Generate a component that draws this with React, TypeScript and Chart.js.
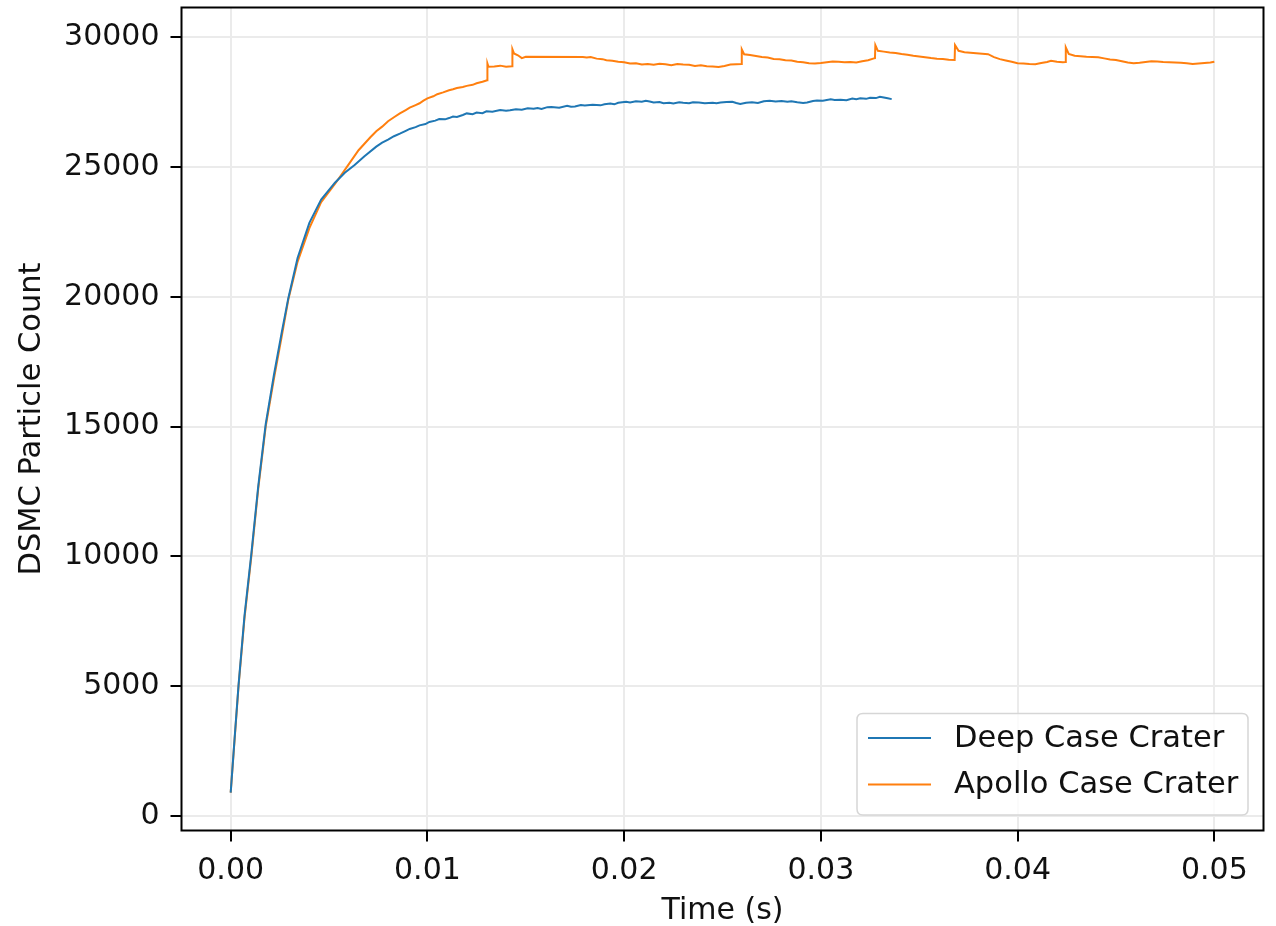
import React, { useEffect, useRef } from "react";
import { Chart, registerables } from "chart.js";

Chart.register(...registerables);

const seriesNames = ["Deep Case Crater", "Apollo Case Crater"];
const seriesColors = ["#1f77b4", "#ff7f0e"];

const xTickValues = [0, 0.01, 0.02, 0.03, 0.04, 0.05];
const yTickValues = [0, 5000, 10000, 15000, 20000, 25000, 30000];

const deepTime = [0, 0.0002, 0.0004, 0.0007, 0.00105, 0.0014, 0.00178, 0.0022, 0.0026, 0.00293, 0.0034, 0.004, 0.0046, 0.0053, 0.0058, 0.0063, 0.0068, 0.0074, 0.0077, 0.008, 0.0083, 0.0086, 0.0089, 0.0091, 0.0094, 0.0096, 0.0099, 0.0101, 0.0104, 0.0106, 0.0109, 0.0111, 0.0113, 0.0115, 0.0118, 0.012, 0.0123, 0.0125, 0.0128, 0.013, 0.0133, 0.0137, 0.014, 0.0142, 0.0145, 0.0148, 0.0151, 0.0154, 0.0156, 0.0158, 0.0161, 0.0163, 0.0167, 0.0171, 0.0173, 0.0175, 0.0178, 0.018, 0.0184, 0.0188, 0.019, 0.0193, 0.0195, 0.0197, 0.0201, 0.0203, 0.0206, 0.0209, 0.0211, 0.0213, 0.0215, 0.0218, 0.022, 0.0223, 0.0225, 0.0228, 0.023, 0.0233, 0.0235, 0.0238, 0.0241, 0.0245, 0.0247, 0.0249, 0.0252, 0.0255, 0.0257, 0.0259, 0.0262, 0.0265, 0.0268, 0.0271, 0.0274, 0.0277, 0.028, 0.0283, 0.0285, 0.0288, 0.0291, 0.0293, 0.0296, 0.0298, 0.0301, 0.0305, 0.0307, 0.031, 0.0313, 0.0316, 0.0318, 0.032, 0.0323, 0.0325, 0.0328, 0.033, 0.0332, 0.0334, 0.0336];
const deepCount = [900, 3000, 5050, 7700, 10100, 12700, 15100, 17000, 18650, 19950, 21500, 22850, 23750, 24400, 24780, 25080, 25420, 25790, 25940, 26060, 26190, 26290, 26400, 26470, 26540, 26610, 26660, 26740, 26790, 26850, 26840, 26890, 26950, 26930, 27010, 27070, 27040, 27100, 27080, 27150, 27130, 27200, 27170, 27190, 27230, 27210, 27270, 27250, 27280, 27240, 27310, 27320, 27290, 27360, 27330, 27340, 27390, 27370, 27400, 27380, 27420, 27450, 27420, 27480, 27520, 27490, 27540, 27520, 27560, 27530, 27490, 27510, 27460, 27480, 27450, 27500, 27480, 27460, 27500, 27490, 27460, 27480, 27460, 27490, 27510, 27520, 27470, 27430, 27480, 27500, 27470, 27540, 27560, 27530, 27550, 27520, 27540, 27500, 27470, 27490, 27550, 27570, 27560, 27610, 27590, 27600, 27580, 27640, 27620, 27650, 27630, 27670, 27660, 27710, 27680, 27650, 27620];

const apolloTime = [0, 0.0002, 0.0004, 0.0007, 0.00105, 0.0014, 0.00178, 0.0022, 0.0026, 0.00293, 0.0034, 0.004, 0.0046, 0.0053, 0.0059, 0.0065, 0.0071, 0.0074, 0.0077, 0.008, 0.0083, 0.0086, 0.0089, 0.0091, 0.0094, 0.0096, 0.0098, 0.01, 0.0103, 0.0105, 0.0108, 0.0111, 0.0113, 0.0115, 0.0118, 0.012, 0.0123, 0.0125, 0.0128, 0.013, 0.01304, 0.01305, 0.0131, 0.0134, 0.0137, 0.014, 0.0143, 0.01432, 0.0144, 0.0146, 0.0148, 0.015, 0.0179, 0.0181, 0.0183, 0.0186, 0.0189, 0.0191, 0.0194, 0.0197, 0.02, 0.0203, 0.0206, 0.0209, 0.0212, 0.0215, 0.0218, 0.0221, 0.0224, 0.0227, 0.023, 0.0233, 0.0236, 0.0239, 0.0242, 0.0245, 0.0248, 0.0251, 0.0254, 0.0257, 0.02596, 0.02598, 0.0261, 0.0264, 0.0267, 0.027, 0.0273, 0.0276, 0.0279, 0.0282, 0.0285, 0.0288, 0.0291, 0.0294, 0.0297, 0.03, 0.0303, 0.0306, 0.0309, 0.0312, 0.0315, 0.0318, 0.0321, 0.0324, 0.0327, 0.03275, 0.03277, 0.0329, 0.0332, 0.0335, 0.0338, 0.0341, 0.0344, 0.0347, 0.035, 0.0353, 0.0356, 0.0359, 0.0362, 0.0365, 0.0368, 0.03682, 0.037, 0.0373, 0.0376, 0.0379, 0.0382, 0.0385, 0.0388, 0.0391, 0.0394, 0.0397, 0.04, 0.0403, 0.0406, 0.0409, 0.0412, 0.0415, 0.0417, 0.042, 0.0423, 0.04243, 0.04245, 0.0426, 0.0429, 0.0432, 0.0435, 0.0438, 0.0441, 0.0444, 0.0447, 0.045, 0.0453, 0.0456, 0.0459, 0.0462, 0.0465, 0.0468, 0.0471, 0.0474, 0.0477, 0.048, 0.0483, 0.0486, 0.0489, 0.0492, 0.0495, 0.0498, 0.05];
const apolloCount = [900, 2950, 5000, 7600, 10000, 12600, 15000, 16850, 18500, 19900, 21350, 22650, 23650, 24350, 25000, 25650, 26150, 26380, 26560, 26770, 26920, 27070, 27200, 27290, 27390, 27460, 27560, 27650, 27730, 27810, 27880, 27960, 28000, 28050, 28090, 28130, 28170, 28230, 28290, 28340, 28350, 28990, 28870, 28880, 28910, 28870, 28890, 29540, 29380, 29310, 29200, 29250, 29240, 29220, 29240, 29180, 29160, 29120, 29100, 29060, 29040, 28990, 29000, 28950, 28970, 28940, 28980, 28960, 28930, 28970, 28950, 28940, 28900, 28920, 28890, 28880, 28860, 28900, 28950, 28960, 28970, 29540, 29350, 29320, 29280, 29240, 29220, 29170, 29160, 29120, 29110, 29060, 29040, 29000, 28990, 29010, 29040, 29070, 29060, 29040, 29050, 29030, 29080, 29120, 29190, 29200, 29700, 29480, 29450, 29420, 29400, 29360, 29330, 29290, 29260, 29230, 29200, 29180, 29170, 29140, 29125, 29700, 29480, 29430, 29410, 29390, 29370, 29350, 29240, 29160, 29110, 29060, 29000, 28990, 28970, 28960, 29010, 29050, 29100, 29060, 29040, 29050, 29610, 29360, 29290, 29270, 29250, 29240, 29230, 29190, 29150, 29130, 29080, 29030, 29000, 29020, 29050, 29080, 29070, 29050, 29040, 29030, 29020, 29000, 28970, 28990, 29010, 29030, 29060];

const FONT = "'DejaVu Sans', sans-serif";
const TEXT_COLOR = "#111111";

const frameAndLegend = {
  id: "frameAndLegend",
  afterDraw(chart: any) {
    const { ctx, chartArea } = chart;
    ctx.save();
    ctx.strokeStyle = "#000000";
    ctx.lineWidth = 2;
    ctx.strokeRect(chartArea.left, chartArea.top, chartArea.right - chartArea.left, chartArea.bottom - chartArea.top);

    // legend box
    const bx = 857, by = 713.5, bw = 391, bh = 101.5, r = 6;
    ctx.beginPath();
    ctx.moveTo(bx + r, by);
    ctx.lineTo(bx + bw - r, by);
    ctx.quadraticCurveTo(bx + bw, by, bx + bw, by + r);
    ctx.lineTo(bx + bw, by + bh - r);
    ctx.quadraticCurveTo(bx + bw, by + bh, bx + bw - r, by + bh);
    ctx.lineTo(bx + r, by + bh);
    ctx.quadraticCurveTo(bx, by + bh, bx, by + bh - r);
    ctx.lineTo(bx, by + r);
    ctx.quadraticCurveTo(bx, by, bx + r, by);
    ctx.closePath();
    ctx.fillStyle = "rgba(255,255,255,0.8)";
    ctx.fill();
    ctx.strokeStyle = "#d6d6d6";
    ctx.lineWidth = 1.5;
    ctx.stroke();

    const rowsY = [738, 784.5];
    seriesNames.forEach((name, i) => {
      ctx.strokeStyle = seriesColors[i];
      ctx.lineWidth = 2;
      ctx.beginPath();
      ctx.moveTo(868, rowsY[i]);
      ctx.lineTo(931, rowsY[i]);
      ctx.stroke();
      ctx.fillStyle = TEXT_COLOR;
      ctx.font = `30.5px ${FONT}`;
      ctx.textBaseline = "middle";
      ctx.textAlign = "left";
      ctx.fillText(name, 954, rowsY[i] + 1);
    });
    ctx.restore();
  },
};

export default function App() {
  const canvasRef = useRef<HTMLCanvasElement | null>(null);

  useEffect(() => {
    const canvas = canvasRef.current;
    if (!canvas) return;
    const deepData = deepTime.map((t, i) => ({ x: t, y: deepCount[i] }));
    const apolloData = apolloTime.map((t, i) => ({ x: t, y: apolloCount[i] }));

    const chart = new Chart(canvas, {
      type: "line",
      data: {
        datasets: [
          {
            label: seriesNames[0],
            data: deepData,
            borderColor: seriesColors[0],
            borderWidth: 2,
            pointRadius: 0,
            tension: 0,
            fill: false,
          },
          {
            label: seriesNames[1],
            data: apolloData,
            borderColor: seriesColors[1],
            borderWidth: 2,
            pointRadius: 0,
            tension: 0,
            fill: false,
          },
        ],
      },
      options: {
        animation: false,
        responsive: false,
        maintainAspectRatio: false,
        devicePixelRatio: 1,
        layout: { padding: { left: 0, right: 12.5, top: 7.5, bottom: 0 } },
        plugins: {
          legend: { display: false },
          tooltip: { enabled: false },
        },
        scales: {
          x: {
            type: "linear",
            min: -0.0025,
            max: 0.0525,
            afterFit: (scale: any) => {
              scale.height = 95.5;
              scale.paddingLeft = 0;
              scale.paddingRight = 0;
            },
            afterBuildTicks: (scale: any) => {
              scale.ticks = xTickValues.map((v) => ({ value: v }));
            },
            border: { display: false },
            grid: {
              color: "#ebebeb",
              lineWidth: 2,
              tickColor: "#000000",
              tickLength: 11,
              tickWidth: 2,
            },
            ticks: {
              color: TEXT_COLOR,
              font: { family: FONT, size: 30 },
              padding: 12,
              maxRotation: 0,
              autoSkip: false,
              callback: (v: any) => Number(v).toFixed(2),
            },
            title: {
              display: true,
              text: "Time (s)",
              color: TEXT_COLOR,
              font: { family: FONT, size: 30 },
              padding: { top: 0, bottom: -3 },
            },
          },
          y: {
            type: "linear",
            min: -560,
            max: 31150,
            afterFit: (scale: any) => {
              scale.width = 181.5;
              scale.paddingTop = 0;
              scale.paddingBottom = 0;
            },
            afterBuildTicks: (scale: any) => {
              scale.ticks = yTickValues.map((v) => ({ value: v }));
            },
            border: { display: false },
            grid: {
              color: "#ebebeb",
              lineWidth: 2,
              tickColor: "#000000",
              tickLength: 11,
              tickWidth: 2,
            },
            ticks: {
              color: TEXT_COLOR,
              font: { family: FONT, size: 30 },
              padding: 11,
              autoSkip: false,
              callback: (v: any) => String(v),
            },
            title: {
              display: true,
              text: "DSMC Particle Count",
              color: TEXT_COLOR,
              font: { family: FONT, size: 30.5 },
              padding: { top: 14, bottom: 0 },
            },
          },
        },
      },
      plugins: [frameAndLegend],
    });
    return () => chart.destroy();
  }, []);

  return (
    <div style={{ position: "fixed", left: 0, top: 0, width: 1276, height: 926, background: "#ffffff" }}>
      <canvas ref={canvasRef} width={1276} height={926} style={{ width: 1276, height: 926, display: "block" }} />
    </div>
  );
}
